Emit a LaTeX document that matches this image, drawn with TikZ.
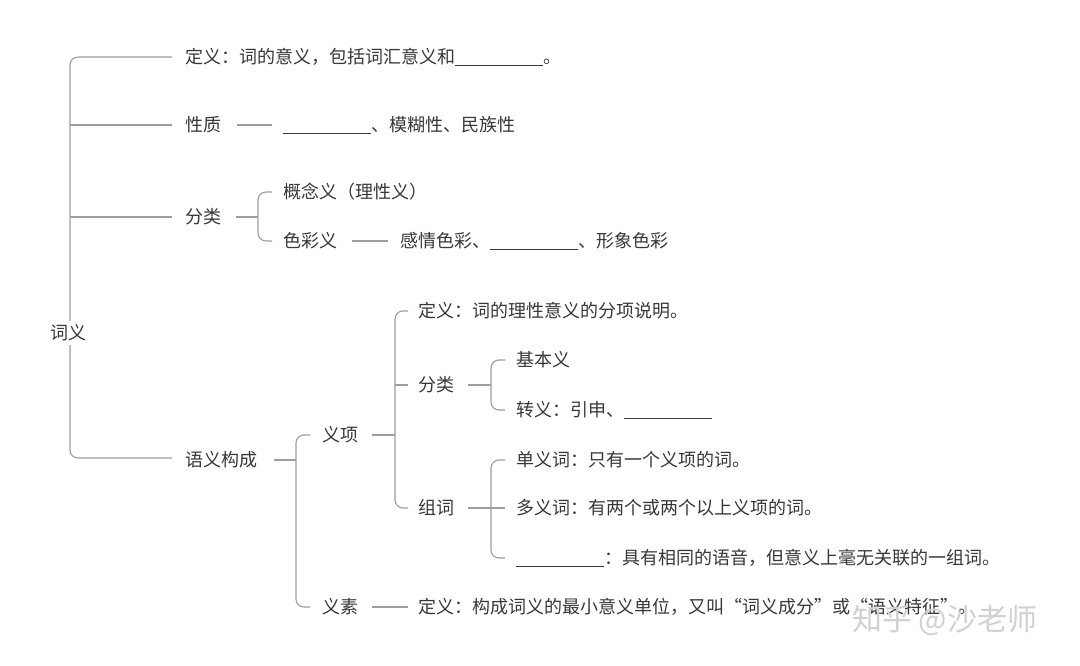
\documentclass[tikz,border=0pt]{standalone}
\usepackage{fontspec}
\setmainfont{Noto Sans CJK SC}
\begin{document}
\newcommand{\blank}[1][88pt]{\rule[-3pt]{#1}{0.8pt}}
\begin{tikzpicture}[x=1pt,y=-1pt,
  t/.style={anchor=west,inner sep=0pt,text=black!78,font=\fontsize{18}{18}\selectfont},
  ln/.style={draw=black!38,line width=1.1pt,rounded corners=8pt},
  sl/.style={draw=black!38,line width=1.1pt}]
\useasboundingbox[fill=white] (0,0) rectangle (1080,666);
% level 1
\node[t] (d1) at (185,57) {定义：词的意义，包括词汇意义和\blank 。};
\node[t] (xz) at (185,125) {性质};
\node[t] (xzt) at (283,125) {\blank、模糊性、民族性};
\node[t] (fl) at (185,217) {分类};
\node[t] (gn) at (283,192) {概念义（理性义）};
\node[t] (sc) at (283,241) {色彩义};
\node[t] (sct) at (400,241) {感情色彩、\blank、形象色彩};
\node[t] (yy) at (185,460) {语义构成};
\node[t] (yx) at (322,435) {义项};
\node[t] (ys) at (322,607) {义素};
\node[t] (yst) at (418,607) {定义：构成词义的最小意义单位，又叫“词义成分”或“语义特征”。};
\node[t] (d2) at (418,311) {定义：词的理性意义的分项说明。};
\node[t] (fl2) at (418,385) {分类};
\node[t] (jb) at (516,360) {基本义};
\node[t] (zy) at (516,410) {转义：引申、\blank};
\node[t] (zc) at (418,508) {组词};
\node[t] (dy) at (516,460) {单义词：只有一个义项的词。};
\node[t] (dy2) at (516,508) {多义词：有两个或两个以上义项的词。};
\node[t] (ty) at (516,558) {\blank：具有相同的语音，但意义上毫无关联的一组词。};
% root lines
\draw[ln] (172,57) -- (70,57) -- (70,458) -- (172,458);
\draw[sl] (70,125) -- (172,125);
\draw[sl] (70,217) -- (172,217);
\node[t,fill=white,inner sep=4pt] (root) at (46,333) {词义};
% 性质
\draw[sl] (237,125) -- (272,125);
% 分类
\draw[sl] (236,217) -- (258,217);
\draw[ln] (272,192) -- (258,192) -- (258,241) -- (272,241);
\draw[sl] (352,241) -- (388,241);
% 语义构成
\draw[sl] (274,460) -- (296,460);
\draw[ln] (310,435) -- (296,435) -- (296,607) -- (310,607);
\draw[sl] (372,607) -- (408,607);
% 义项
\draw[sl] (372,435) -- (395,435);
\draw[ln] (408,311) -- (395,311) -- (395,508) -- (408,508);
\draw[sl] (395,385) -- (408,385);
% 分类2
\draw[sl] (468,385) -- (491,385);
\draw[ln] (505,360) -- (491,360) -- (491,410) -- (505,410);
% 组词
\draw[sl] (468,508) -- (505,508);
\draw[ln] (505,460) -- (491,460) -- (491,558) -- (505,558);
% watermark
\node[t,text=black!18,font=\fontsize{30}{30}\selectfont] (wm) at (852,620) {知乎 @沙老师};
\end{tikzpicture}
\end{document}
